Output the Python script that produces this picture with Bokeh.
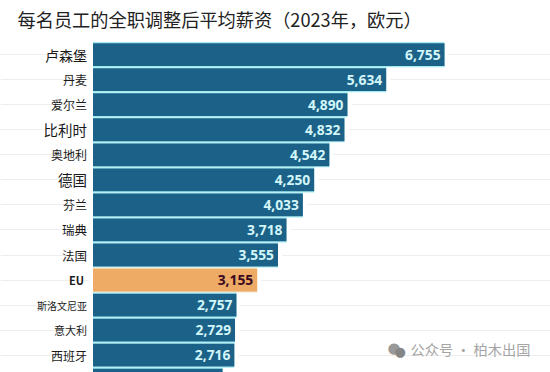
from bokeh.plotting import figure
from bokeh.models import Range1d, Grid, FixedTicker, Label, ColumnDataSource
from bokeh.core.properties import value
from bokeh.embed import file_html
from bokeh.resources import INLINE

countries = ["卢森堡","丹麦","爱尔兰","比利时","奥地利","德国","芬兰","瑞典","法国","EU","斯洛文尼亚","意大利","西班牙",""]
wages = [6755,5634,4890,4832,4542,4250,4033,3718,3555,3155,2757,2729,2716,2490]
name_sizes = ["14px","12px","12px","14.5px","12px","14.5px","12px","12.5px","12.5px","11px","10px","11px","12px"]

W, H, TITLE_H = 550, 372, 36
LEFT_PX, PX_PER_EUR = 92.5, 0.05204
ROW0_PX, ROW_PX = 56.0, 24.9

rows = list(range(len(countries)))
src = ColumnDataSource(dict(
    y=rows, wage=wages,
    zero=[0]*len(rows),
    fill=["#EDAB66" if c == "EU" else "#1C6288" for c in countries],
    edge=["#F5E3CC" if c == "EU" else "#A4EAF1" for c in countries],
))
named = countries[:13]
txt = ColumnDataSource(dict(
    y=rows[:13], wage=wages[:13], zero=[0]*13, name=named, size=name_sizes,
    label=[f"{v:,}" for v in wages[:13]],
    lab=["#3A0A1E" if c == "EU" else "#D2F6F9" for c in named],
    style=["bold" if c == "EU" else "normal" for c in named],
    off=[-9 if c == "EU" else -6 for c in named],
))

p = figure(width=W, height=H, output_backend="svg", toolbar_location=None,
           x_range=Range1d(-LEFT_PX/PX_PER_EUR, (W-LEFT_PX)/PX_PER_EUR),
           y_range=Range1d((H-ROW0_PX)/ROW_PX, (TITLE_H-ROW0_PX)/ROW_PX),
           x_axis_location=None, y_axis_location=None,
           min_border=0, min_border_top=0, min_border_left=0, min_border_right=0, min_border_bottom=0,
           outline_line_color=None, background_fill_color="white", border_fill_color="white")
p.xgrid.visible = False
p.ygrid.visible = False
p.add_layout(Grid(dimension=1, ticker=FixedTicker(ticks=rows), grid_line_color="#EEEEEE", grid_line_width=1))

p.title.text = "每名员工的全职调整后平均薪资（2023年，欧元）"
p.title.text_font = "Noto Sans CJK SC"
p.title.text_font_size = "18.2px"
p.title.text_font_style = "normal"
p.title.text_color = "#222222"
p.title.offset = 14
p.title.padding = 3
p.title.standoff = 0

# white halo that interrupts the gridlines just past each bar end
p.hbar(y="y", left="zero", right="wage", height=0.9, source=src, fill_color="white", line_color="white", line_width=8)
# pale separator band, then the bar itself
p.hbar(y="y", left="zero", right="wage", height=1.0, source=src, fill_color="edge", line_color=None)
p.hbar(y="y", left="zero", right="wage", height=0.91, source=src, fill_color="fill", line_color=None)

p.text(x="wage", y="y", text="label", source=txt, x_offset=-4, text_align="right", text_baseline="middle",
       text_font=value("Open Sans"), text_font_style="bold", text_font_size="13.8px", text_color="lab")
p.text(x="zero", y="y", text="name", source=txt, x_offset="off", text_align="right", text_baseline="middle",
       text_font=value("Noto Sans CJK SC"), text_font_size="size", text_font_style="style", text_color="#1A1A1A")

p.add_layout(Label(x=410, y=24, x_units="screen", y_units="screen", text="公众号 · 柏木出国",
                   text_font="Noto Sans CJK SC", text_font_size="14.2px", text_color="#A4A4A4", text_baseline="middle"))
p.add_layout(Label(x=387, y=25, x_units="screen", y_units="screen", text="●",
                   text_font="DejaVu Sans", text_font_size="15px", text_color="#999999", text_baseline="middle"))
p.add_layout(Label(x=394, y=21, x_units="screen", y_units="screen", text="●",
                   text_font="DejaVu Sans", text_font_size="13px", text_color="#858585", text_baseline="middle"))

html = file_html(p, INLINE)
html = html.replace("<head>", "<head><style>html,body{margin:0;padding:0;overflow:hidden}</style>", 1)
open("out.html", "w").write(html)
